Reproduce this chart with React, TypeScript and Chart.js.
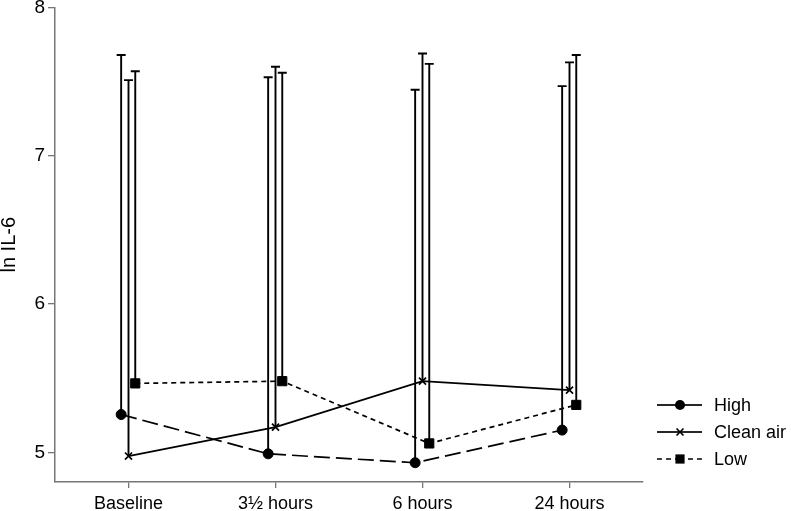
import React, { useEffect, useRef } from "react";
import { Chart, registerables } from "chart.js";

Chart.register(...registerables);

const categories = ["Baseline", "3½ hours", "6 hours", "24 hours"];
const seriesNames = ["High", "Clean air", "Low"];
const highMean = [5.255, 4.99, 4.93, 5.15];
const highUpper = [7.68, 7.53, 7.445, 7.47];
const cleanMean = [4.975, 5.17, 5.48, 5.42];
const cleanUpper = [7.51, 7.6, 7.69, 7.63];
const lowMean = [5.465, 5.48, 5.06, 5.32];
const lowUpper = [7.57, 7.56, 7.62, 7.68];
const yTicks = [5, 6, 7, 8];

const FONT = '"Liberation Sans", Arial, Helvetica, sans-serif';

export default function App() {
  const ref = useRef<HTMLCanvasElement | null>(null);

  useEffect(() => {
    document.body.style.margin = "0";
    const canvas = ref.current;
    if (!canvas) return;

    const offsets = [-0.05, 0, 0.046];
    const means = [highMean, cleanMean, lowMean];
    const uppers = [highUpper, cleanUpper, lowUpper];
    const dashes = [[16, 6], [], [5, 4]];
    const styles = ["circle", "crossRot", "rect"];
    const radii = [5, 5, 6.5];

    const datasets = means.map((m, si) => ({
      label: seriesNames[si],
      data: m.map((v, i) => ({ x: i + 1 + offsets[si], y: v })),
      upper: uppers[si],
      borderColor: "#000",
      backgroundColor: "#000",
      borderWidth: 1.7,
      borderDash: dashes[si],
      pointStyle: styles[si],
      pointRadius: radii[si],
      pointBorderWidth: si === 1 ? 1.7 : 1,
      pointBackgroundColor: "#000",
      pointBorderColor: "#000",
      fill: false,
      tension: 0,
    }));

    const errorBars = {
      id: "errorBars",
      beforeDatasetsDraw(chart: any) {
        const ctx = chart.ctx;
        const ys = chart.scales.y;
        ctx.save();
        ctx.strokeStyle = "#000";
        ctx.lineWidth = 1.9;
        ctx.setLineDash([]);
        chart.data.datasets.forEach((ds: any, di: number) => {
          const meta = chart.getDatasetMeta(di);
          meta.data.forEach((pt: any, i: number) => {
            const x = pt.x;
            const y0 = pt.y;
            const y1 = ys.getPixelForValue(ds.upper[i]);
            ctx.beginPath();
            ctx.moveTo(x, y0);
            ctx.lineTo(x, y1);
            ctx.moveTo(x - 4.5, y1);
            ctx.lineTo(x + 4.5, y1);
            ctx.stroke();
          });
        });
        ctx.restore();
      },
    };

    const legendPlugin = {
      id: "customLegend",
      afterDraw(chart: any) {
        const ctx = chart.ctx;
        const r = chart.chartArea.right;
        ctx.save();
        chart.data.datasets.forEach((ds: any, i: number) => {
          const y = 405 + 27 * i;
          const x0 = r + 14;
          const x1 = r + 59;
          const xm = r + 37;
          ctx.strokeStyle = "#000";
          ctx.lineWidth = 1.7;
          ctx.setLineDash(i === 2 ? [5, 4] : []);
          ctx.beginPath();
          ctx.moveTo(x0, y);
          ctx.lineTo(xm, y);
          ctx.stroke();
          ctx.beginPath();
          ctx.moveTo(x1, y);
          ctx.lineTo(xm, y);
          ctx.stroke();
          ctx.setLineDash([]);
          ctx.fillStyle = "#000";
          if (i === 0) {
            ctx.beginPath();
            ctx.arc(xm, y, 5, 0, Math.PI * 2);
            ctx.fill();
          } else if (i === 1) {
            ctx.lineWidth = 1.7;
            ctx.beginPath();
            ctx.moveTo(xm - 3.5, y - 3.5);
            ctx.lineTo(xm + 3.5, y + 3.5);
            ctx.moveTo(xm + 3.5, y - 3.5);
            ctx.lineTo(xm - 3.5, y + 3.5);
            ctx.stroke();
          } else {
            ctx.fillRect(xm - 4.6, y - 4.6, 9.2, 9.2);
          }
          ctx.font = `18px ${FONT}`;
          ctx.textBaseline = "middle";
          ctx.textAlign = "left";
          ctx.fillText(ds.label, r + 71, y + 1);
        });
        ctx.restore();
      },
    };

    const chart = new Chart(canvas, {
      type: "line",
      data: { datasets: datasets as any },
      plugins: [errorBars, legendPlugin],
      options: {
        animation: false,
        responsive: false,
        maintainAspectRatio: false,
        layout: { padding: { top: 5, right: 148, left: 0, bottom: 0 } },
        plugins: {
          legend: { display: false },
          tooltip: { enabled: false },
        },
        scales: {
          x: {
            type: "linear",
            min: 0.5,
            max: 4.5,
            afterBuildTicks: (s: any) => {
              s.ticks = categories.map((_, i) => ({ value: i + 1 }));
            },
            afterFit: (s: any) => {
              s.height = 29;
              s.paddingLeft = 0;
              s.paddingRight = 0;
            },
            ticks: {
              autoSkip: false,
              maxRotation: 0,
              padding: 5,
              color: "#000",
              font: { family: FONT, size: 18 },
              callback: (v: any) => categories[Math.round(v) - 1] ?? "",
            },
            grid: {
              drawOnChartArea: false,
              drawTicks: true,
              tickLength: 6,
              color: "#777",
              lineWidth: 1.3,
            },
            border: { display: true, color: "#777", width: 1.5 },
          },
          y: {
            type: "linear",
            min: 4.8,
            max: 8,
            afterBuildTicks: (s: any) => {
              s.ticks = yTicks.map((v) => ({ value: v }));
            },
            afterFit: (s: any) => {
              s.width = 55;
              s.paddingTop = 0;
              s.paddingBottom = 0;
            },
            ticks: {
              padding: 3,
              color: "#000",
              font: { family: FONT, size: 19 },
              callback: (v: any) => String(v),
            },
            grid: {
              drawOnChartArea: false,
              drawTicks: true,
              tickLength: 7,
              color: "#777",
              lineWidth: 1.3,
            },
            border: { display: true, color: "#777", width: 1.5 },
            title: {
              display: true,
              text: "ln IL-6",
              color: "#000",
              font: { family: FONT, size: 20 },
              padding: { top: -3, bottom: 0 },
            },
          },
        },
      },
    });
    return () => chart.destroy();
  }, []);

  return (
    <div style={{ width: 791, height: 511 }}>
      <canvas ref={ref} width={791} height={511} style={{ display: "block" }} />
    </div>
  );
}
